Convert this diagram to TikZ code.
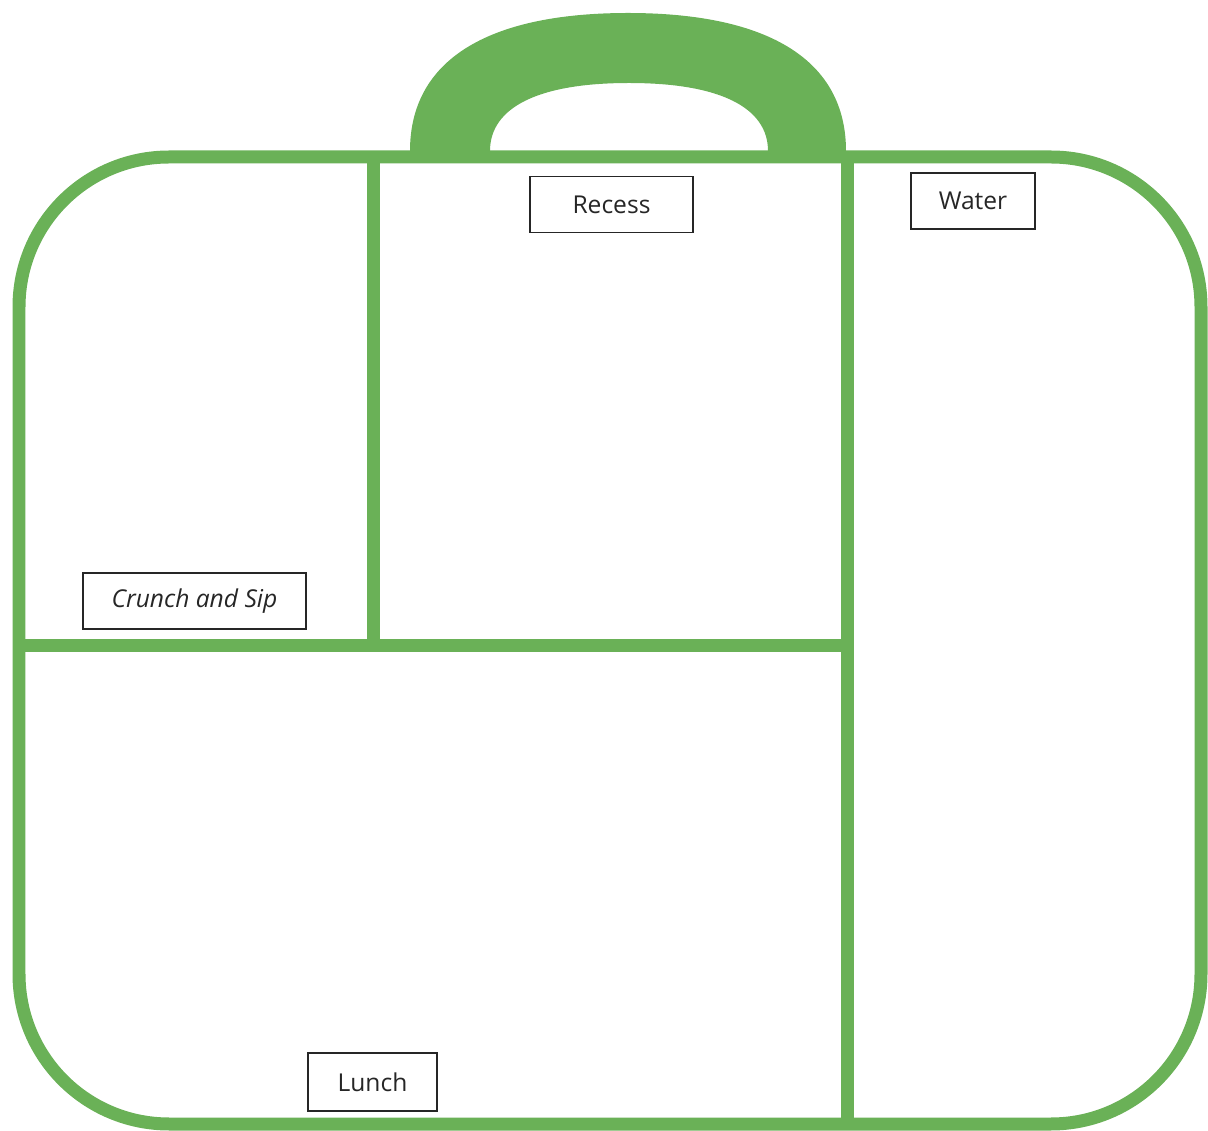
\documentclass[tikz,border=0pt]{standalone}
\usepackage{fontspec}
\setmainfont{Open Sans}
\begin{document}
\begin{tikzpicture}[x=0.02cm,y=-0.02cm,font=\fontsize{14}{16}\selectfont,
bord/.style={draw=vert,line width=0.26cm},
etiquette/.style={draw=black!85,line width=1pt,minimum height=1.12cm,inner sep=0pt,text=black!85}]
\definecolor{vert}{RGB}{106,177,87}
\useasboundingbox (0,0) rectangle (1208,1131);
% poignee
\fill[vert] (410,151) .. controls (410,61) and (486,13) .. (628,13)
  .. controls (770,13) and (846,61) .. (846,151) -- (768,151)
  .. controls (768,107) and (719,83) .. (629,83)
  .. controls (539,83) and (490,107) .. (490,151) -- cycle;
% boite et cloisons
\draw[bord,rounded corners=3cm] (19,157) rectangle (1201,1124);
\draw[bord] (373,157) -- (373,646);
\draw[bord] (19,646) -- (847,646);
\draw[bord] (847,157) -- (847,1124);
% etiquettes
\node[etiquette,minimum width=3.26cm] (recre) at (611.5,204.5) {Recess};
\node[etiquette,minimum width=2.48cm] (eau) at (973,201) {Water};
\node[etiquette,minimum width=4.46cm] (croque) at (194.5,601) {\itshape Crunch and Sip};
\node[etiquette,minimum width=2.58cm,minimum height=1.16cm] (repas) at (372.5,1082) {Lunch};
\end{tikzpicture}
\end{document}
